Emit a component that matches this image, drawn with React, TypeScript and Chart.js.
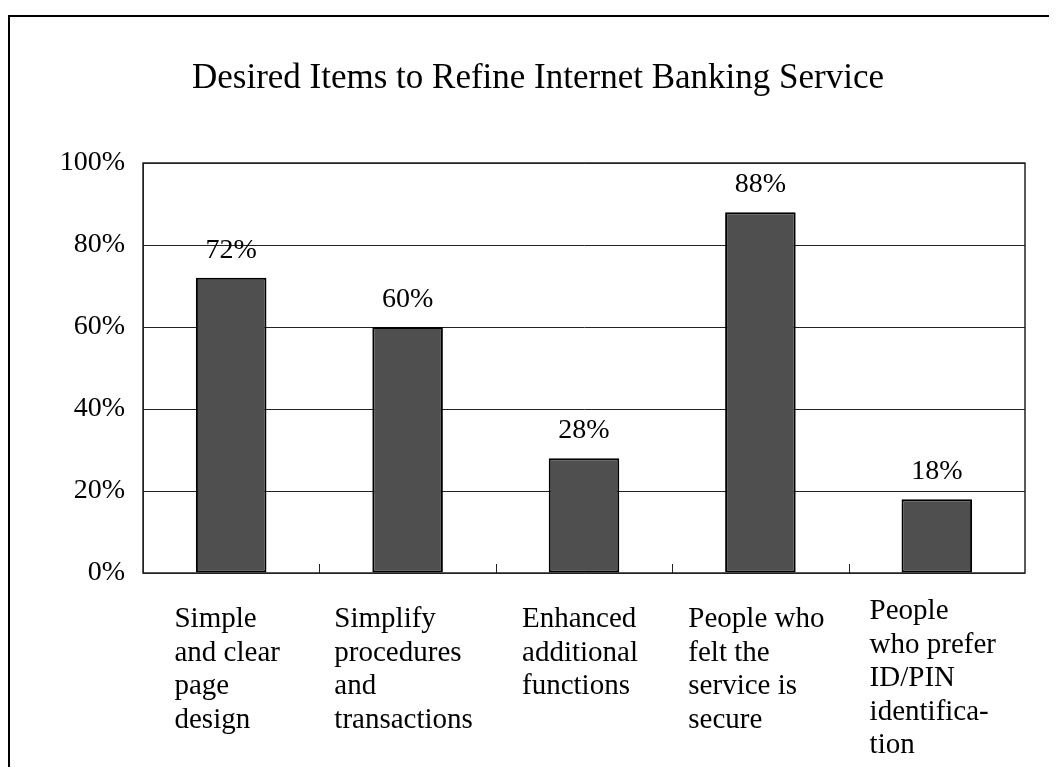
import React, { useEffect, useRef } from "react";
import { Chart, registerables } from "chart.js";

Chart.register(...registerables);

const TITLE = "Desired Items to Refine Internet Banking Service";
const CATEGORY_LINES: string[][] = [
  ["Simple", "and clear", "page", "design"],
  ["Simplify", "procedures", "and", "transactions"],
  ["Enhanced", "additional", "functions"],
  ["People who", "felt the", "service is", "secure"],
  ["People", "who prefer", "ID/PIN", "identifica-", "tion"],
];
const CATEGORIES = CATEGORY_LINES.map((l) => l.join(" "));
const VALUES = [72, 60, 28, 88, 18];
const Y_TICKS = [0, 20, 40, 60, 80, 100];

const FONT = "'Liberation Serif', 'Times New Roman', serif";

const frameAndLabels = {
  id: "frameAndLabels",
  afterDatasetsDraw(chart: any) {
    const { ctx } = chart;
    const meta = chart.getDatasetMeta(0);
    ctx.save();
    ctx.fillStyle = "#000";
    ctx.font = `28px ${FONT}`;
    ctx.textAlign = "center";
    ctx.textBaseline = "alphabetic";
    meta.data.forEach((bar: any, i: number) => {
      ctx.fillText(`${VALUES[i]}%`, bar.x, bar.y - 20);
    });
    ctx.restore();
  },
  afterDraw(chart: any) {
    const { ctx, chartArea, scales } = chart;
    const xs = scales.x;
    ctx.save();
    // title
    ctx.fillStyle = "#000";
    ctx.font = `35px ${FONT}`;
    ctx.textAlign = "center";
    ctx.textBaseline = "alphabetic";
    ctx.fillText(TITLE, 528, 71);
    // plot frame
    ctx.strokeStyle = "#222";
    ctx.lineWidth = 1.5;
    ctx.strokeRect(chartArea.left, chartArea.top, chartArea.right - chartArea.left, chartArea.bottom - chartArea.top);
    ctx.lineWidth = 1;
    for (let i = 1; i < CATEGORIES.length; i++) {
      const x = Math.round((xs.getPixelForValue(i - 1) + xs.getPixelForValue(i)) / 2) + 0.5;
      ctx.beginPath();
      ctx.moveTo(x, chartArea.bottom);
      ctx.lineTo(x, chartArea.bottom - 9);
      ctx.stroke();
    }
    // category labels
    ctx.font = `29px ${FONT}`;
    ctx.textAlign = "left";
    CATEGORY_LINES.forEach((lines, i) => {
      const cx = xs.getPixelForValue(i);
      const maxW = Math.max(...lines.map((l) => ctx.measureText(l).width));
      const left = cx - maxW / 2 - 4;
      const shift = Math.max(0, lines.length - 4) * 8;
      lines.forEach((line, j) => {
        ctx.fillText(line, left, chartArea.bottom + 54 - shift + j * 33.5);
      });
    });
    ctx.restore();
  },
};

export default function App() {
  const ref = useRef<HTMLCanvasElement | null>(null);
  useEffect(() => {
    if (!ref.current) return;
    const chart = new Chart(ref.current, {
      type: "bar",
      data: {
        labels: CATEGORIES,
        datasets: [
          {
            data: VALUES,
            backgroundColor: "#4f4f4f",
            borderColor: "#000",
            borderWidth: 2,
            borderSkipped: false,
            categoryPercentage: 1,
            barPercentage: 0.4,
          },
        ],
      },
      options: {
        responsive: false,
        animation: false,
        layout: { padding: { top: 146, right: 24, bottom: 0, left: 0 } },
        plugins: {
          legend: { display: false },
          tooltip: { enabled: false },
          title: { display: false },
        },
        scales: {
          x: {
            ticks: { display: false },
            grid: { display: false },
            border: { display: false },
            afterFit(scale: any) {
              scale.height = 194;
            },
          },
          y: {
            min: 0,
            max: 100,
            afterBuildTicks(scale: any) {
              scale.ticks = Y_TICKS.map((v) => ({ value: v }));
            },
            ticks: {
              color: "#000",
              padding: 18,
              font: { family: FONT, size: 28 },
              callback: (v: any) => `${v}%`,
            },
            grid: { color: "#222", lineWidth: 1, drawTicks: false },
            border: { display: true, color: "#222" },
            afterFit(scale: any) {
              scale.width = 133;
            },
          },
        },
      },
      plugins: [frameAndLabels],
    });
    return () => chart.destroy();
  }, []);
  return (
    <div style={{ paddingTop: 7 }}>
      <div
        style={{
          width: 1041,
          borderLeft: "2px solid #000",
          borderTop: "2px solid #000",
          boxSizing: "border-box",
          background: "#fff",
        }}
      >
        <canvas ref={ref} width={1039} height={750} style={{ display: "block" }} />
      </div>
    </div>
  );
}
